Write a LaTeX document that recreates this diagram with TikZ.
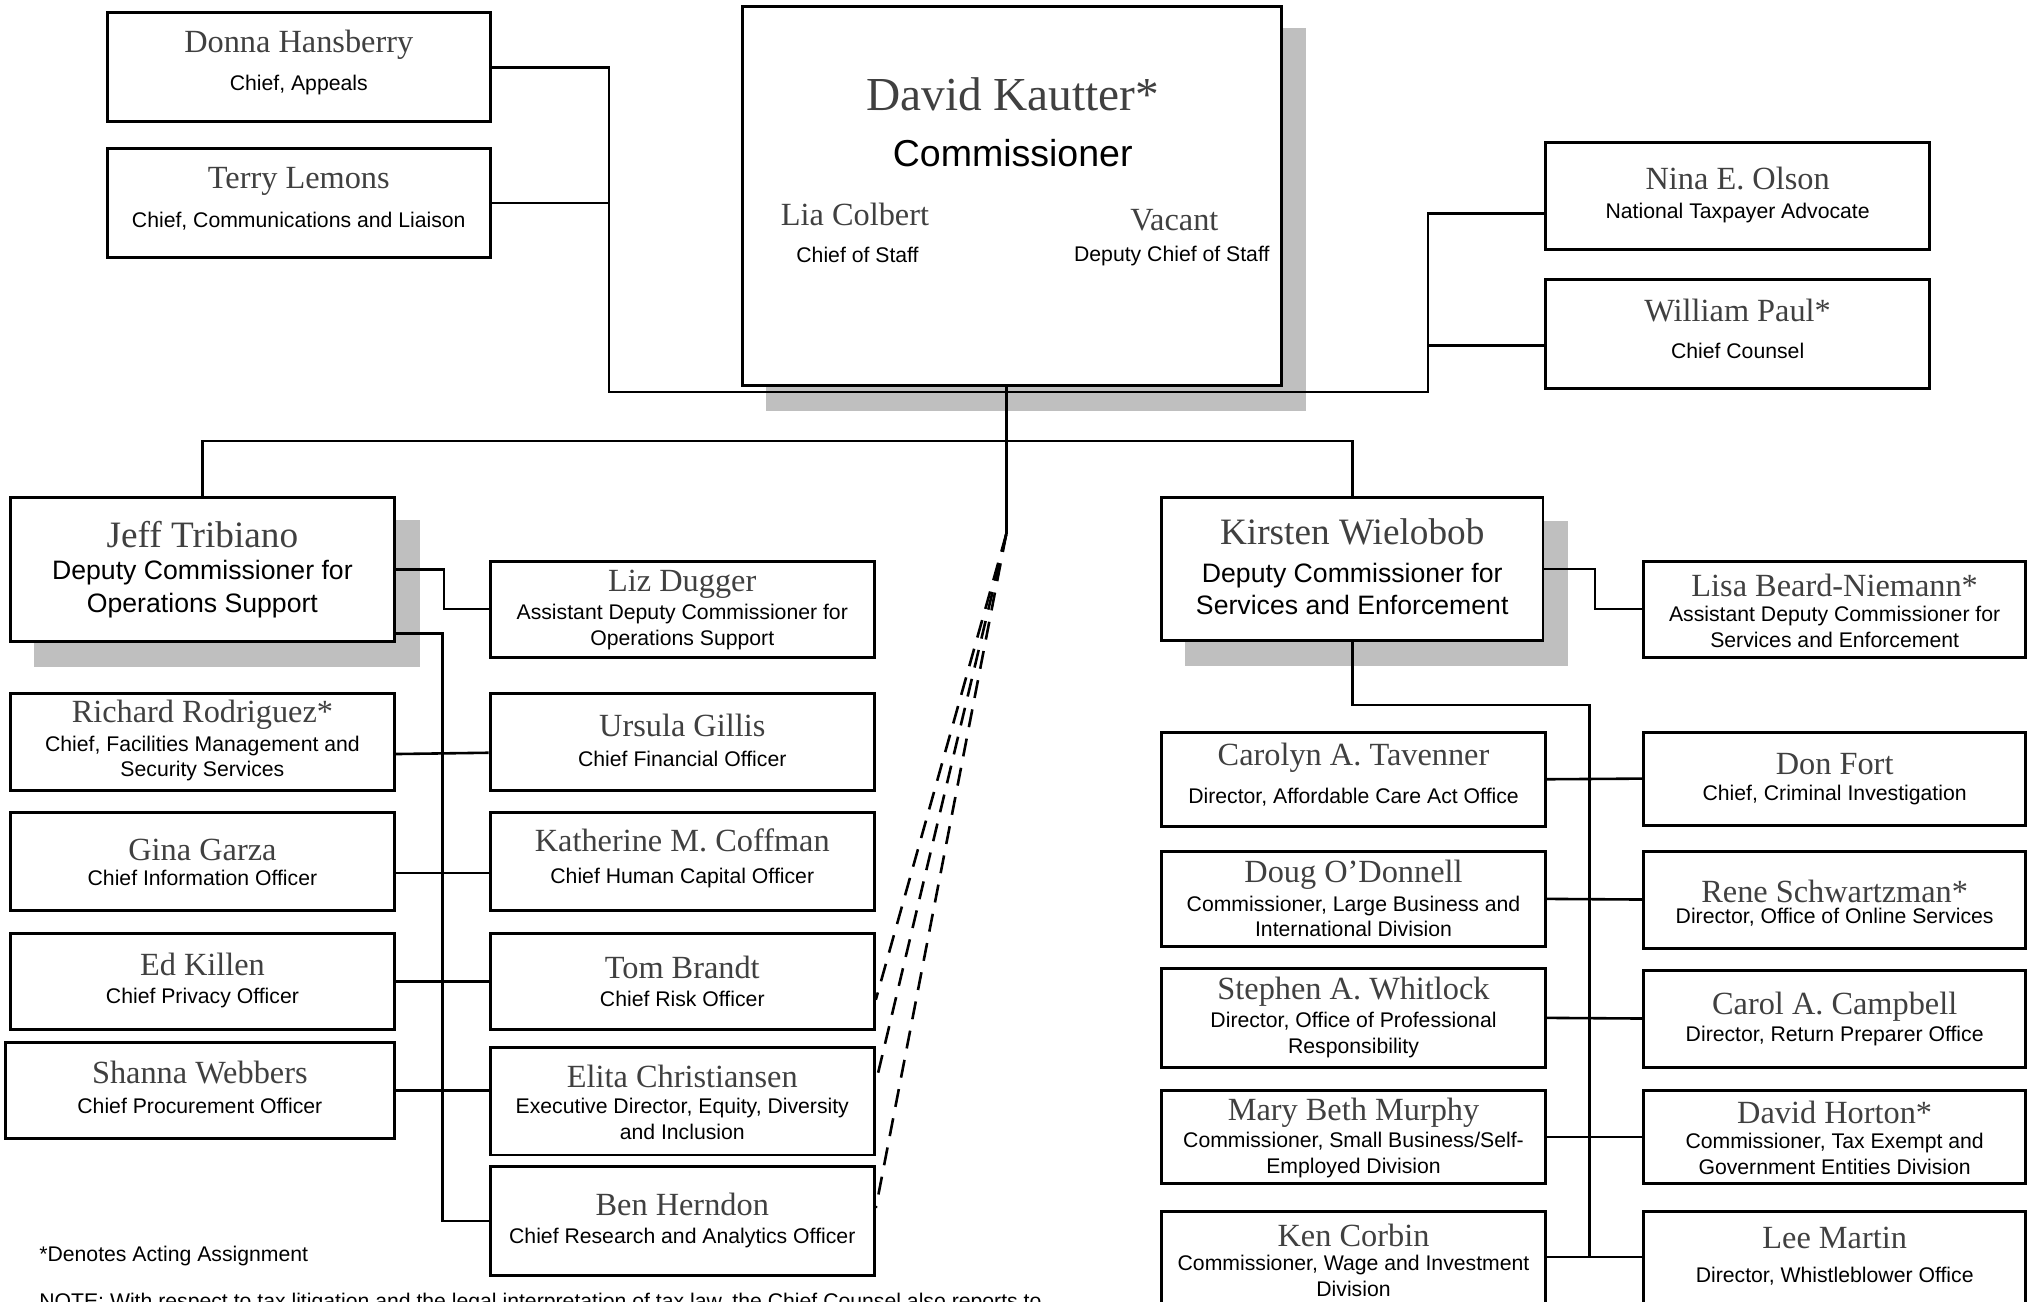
\documentclass[tikz,border=0pt]{standalone}
\usepackage{fontspec}
\setmainfont{Liberation Serif}
\newfontfamily\sansf{Liberation Sans}
\usetikzlibrary{fit,calc}
\definecolor{namegray}{RGB}{64,64,64}
\definecolor{shadowgray}{RGB}{191,191,191}
\tikzset{
  box/.style={draw, line width=1.15pt, fill=white, inner sep=0pt},
  nm/.style={font=\fontsize{12.5}{14}\selectfont, text=namegray, inner sep=0pt, yshift=-1pt},
  bignm/.style={font=\fontsize{14.4}{16}\selectfont, text=namegray, inner sep=0pt},
  subt/.style={font=\sansf\fontsize{8.2}{10}\selectfont, align=center, inner sep=0pt, yshift=-1pt},
  bigsubt/.style={font=\sansf\fontsize{10.3}{12.5}\selectfont, align=center, inner sep=0pt},
  foottxt/.style={font=\sansf\fontsize{8.2}{10}\selectfont, inner sep=0pt},
  conn/.style={line width=1pt},
  dashline/.style={line width=1pt, dash pattern=on 7pt off 4.5pt},
  shadow/.style={fill=shadowgray, draw=none},
}
\newcommand\obox[9]{%
  \node[box, fit={(#2,#3) (#4,#5)}] (#1) {};
  \node[nm] (#1-n) at (#1.center |- 0,#6) {#7};
  \node[subt] (#1-s) at (#1.center |- 0,#8) {#9};
}
\begin{document}
\begin{tikzpicture}[x=0.5pt,y=-0.5pt]
\useasboundingbox (0,0) rectangle (1568,1006);
\clip (0,0) rectangle (1568,1006);
\fill[white] (0,0) rectangle (1568,1006);
% shadows
\fill[shadow] (592,22) rectangle (1010,318);
\fill[shadow] (26,402) rectangle (325,516);
\fill[shadow] (916,403) rectangle (1212,515);
% commissioner
\node[box, fit={(574,5) (991,298)}] (comm) {};
\node[font=\fontsize{18.3}{20}\selectfont, text=namegray, inner sep=0pt] (comm-n) at (783,73) {David Kautter*};
\node[font=\sansf\fontsize{14.5}{16}\selectfont, inner sep=0pt] (comm-t) at (783,118) {Commissioner};
\node[nm] (lia-n) at (661,164) {Lia Colbert};
\node[subt] (lia-s) at (663,195) {Chief of Staff};
\node[nm] (vac-n) at (908,168) {Vacant};
\node[subt] (vac-s) at (906,196) {Deputy Chief of Staff};
% top staff
\obox{donna}{83}{10}{379}{94}{33}{Donna Hansberry}{64}{Chief, Appeals}
\obox{terry}{83}{115}{379}{199}{138}{Terry Lemons}{169}{Chief, Communications and Liaison}
\obox{nina}{1195}{110}{1492}{193}{136}{Nina E. Olson}{163}{National Taxpayer Advocate}
\obox{william}{1195}{216}{1492}{300}{238}{William Paul*}{269}{Chief Counsel}
% deputies
\node[box, fit={(8,385) (305,496)}] (jeff) {};
\node[bignm] (jeff-n) at (jeff.center |- 0,413) {Jeff Tribiano};
\node[bigsubt] (jeff-s) at (jeff.center |- 0,455.5) {Deputy Commissioner for\\Operations Support};
\node[box, fit={(898,385) (1193,495)}] (kirsten) {};
\node[bignm] (kirsten-n) at (kirsten.center |- 0,411) {Kirsten Wielobob};
\node[bigsubt] (kirsten-s) at (kirsten.center |- 0,455.5) {Deputy Commissioner for\\Services and Enforcement};
% operations support
\obox{liz}{379}{434}{676}{508}{450}{Liz Dugger}{483}{Assistant Deputy Commissioner for\\Operations Support}
\obox{richard}{8}{536}{305}{611}{551}{Richard Rodriguez*}{584.5}{Chief, Facilities Management and\\Security Services}
\obox{ursula}{379}{536}{676}{611}{559}{Ursula Gillis}{585}{Chief Financial Officer}
\obox{gina}{8}{628}{305}{704}{655}{Gina Garza}{677}{Chief Information Officer}
\obox{katherine}{379}{628}{676}{704}{648}{Katherine M. Coffman}{677}{Chief Human Capital Officer}
\obox{ed}{8}{722}{305}{796}{744}{Ed Killen}{770}{Chief Privacy Officer}
\obox{tom}{379}{722}{676}{796}{746}{Tom Brandt}{770}{Chief Risk Officer}
\obox{shanna}{4}{806}{305}{880}{827}{Shanna Webbers}{853}{Chief Procurement Officer}
\obox{elita}{379}{810}{676}{893}{830}{Elita Christiansen}{863}{Executive Director, Equity, Diversity\\and Inclusion}
\obox{ben}{379}{902}{676}{986}{929}{Ben Herndon}{955}{Chief Research and Analytics Officer}
% services and enforcement
\obox{lisa}{1271}{434}{1566}{508}{451}{Lisa Beard-Niemann*}{483}{Assistant Deputy Commissioner for\\Services and Enforcement}
\obox{carolyn}{898}{566}{1195}{639}{584}{Carolyn A. Tavenner}{614}{Director, Affordable Care Act Office}
\obox{don}{1271}{566}{1566}{638}{589}{Don Fort}{613}{Chief, Criminal Investigation}
\obox{doug}{898}{658}{1195}{732}{674}{Doug O'Donnell}{706.5}{Commissioner, Large Business and\\International Division}
\obox{rene}{1271}{658}{1566}{733}{687}{Rene Schwartzman*}{707}{Director, Office of Online Services}
\obox{stephen}{898}{749}{1195}{825}{765}{Stephen A. Whitlock}{798.5}{Director, Office of Professional\\Responsibility}
\obox{carol}{1271}{750}{1566}{825}{776}{Carol A. Campbell}{799}{Director, Return Preparer Office}
\obox{mary}{898}{843}{1195}{915}{858}{Mary Beth Murphy}{891}{Commissioner, Small Business/Self-\\Employed Division}
\obox{horton}{1271}{843}{1566}{915}{858}{David Horton*}{890.5}{Commissioner, Tax Exempt and\\Government Entities Division}
\obox{ken}{898}{937}{1195}{1012}{953}{Ken Corbin}{984.5}{Commissioner, Wage and Investment\\Division}
\obox{lee}{1271}{937}{1566}{1012}{955}{Lee Martin}{985}{Director, Whistleblower Office}
% footnotes
\node[foottxt, anchor=base west] (foot) at (30,975) {*Denotes Acting Assignment};
\node[foottxt, anchor=base west] (note) at (30,1012) {NOTE: With respect to tax litigation and the legal interpretation of tax law, the Chief Counsel also reports to};
% connector coordinates
\coordinate (tl) at (471,303);
\coordinate (tr) at (1104,303);
\coordinate (bar) at (778,341);
\coordinate (split) at (778,413);
\coordinate (jv) at (342,944);
\coordinate (kv) at (1229,545);
\coordinate (kb) at (1229,972);
% top connectors
\draw[conn] (donna.east) -| (tl) -- (tr) |- ([yshift=-6.75pt]nina.west);
\draw[conn] (terry.east) -- (terry.east -| tl);
\draw[conn] ([yshift=-4.5pt]william.west) -- ([yshift=-4.5pt]william.west -| tr);
\draw[conn] (split |- comm.south) -- (split);
\draw[conn] (jeff.north) |- (bar) -| (kirsten.north);
\draw[dashline] (split) -- ([yshift=-7pt]tom.east);
\draw[dashline] (split) -- ([yshift=7.25pt]elita.east);
\draw[dashline] (split) -- ([yshift=5pt]ben.east);
% left group
\draw[conn] (jeff.east) -- ++(18.5pt,0) |- (liz.west);
\draw[conn] ([yshift=-24.75pt]jeff.east) -| (jv) -- (ben.west);
\draw[conn] ([yshift=-4.75pt]richard.east) -- ([yshift=-4.25pt]ursula.west);
\draw[conn] ([yshift=-4.5pt]gina.east) -- ([yshift=-4.5pt]katherine.west);
\draw[conn] (ed.east) -- (tom.west);
\draw[conn] (shanna.east) -- (shanna.east -| elita.west);
% right group
\draw[conn] (kirsten.east) -- ++(19.5pt,0) |- (lisa.west);
\draw[conn] (kirsten.south) |- (kv) -- (kb);
\draw[conn] (carolyn.east) -- (don.west);
\draw[conn] (doug.east) -- (rene.west);
\draw[conn] (stephen.east) -- (carol.west);
\draw[conn] (mary.east) -- (horton.west);
\draw[conn] ([yshift=1.25pt]ken.east) -- ([yshift=1.25pt]lee.west);
\end{tikzpicture}
\end{document}
